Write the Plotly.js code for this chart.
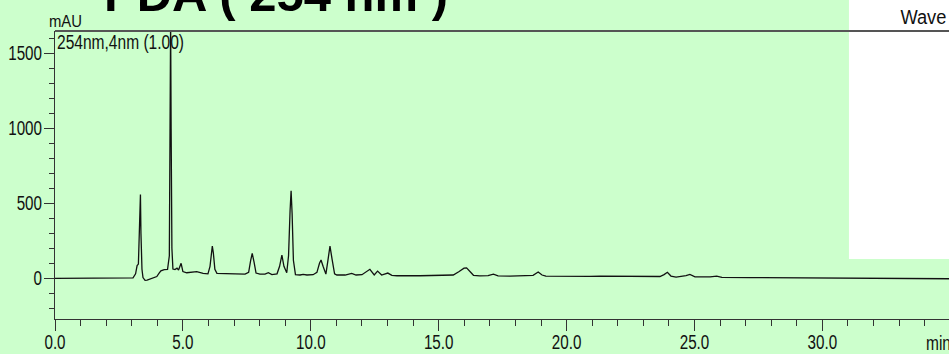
<!DOCTYPE html>
<html>
<head>
<meta charset="utf-8">
<script src="https://cdn.plot.ly/plotly-3.0.1.min.js"></script>
<style>html,body{margin:0;padding:0;background:#ccffcc;}#chart{width:949px;height:354px;}</style>
</head>
<body>
<div id="chart"></div>
<script>
// Retention time (min) and absorbance (mAU)
const timeMin = [0, 2.93, 3.05, 3.15, 3.21, 3.26, 3.30, 3.34, 3.36, 3.40, 3.44, 3.52, 3.60, 3.71, 3.84, 3.98, 4.07, 4.14, 4.27, 4.40, 4.47, 4.50, 4.52, 4.54, 4.57, 4.61, 4.69, 4.77, 4.83, 4.93, 5.00, 5.15, 5.28, 5.54, 5.79, 5.98, 6.06, 6.11, 6.15, 6.19, 6.25, 6.33, 6.65, 7.04, 7.43, 7.57, 7.65, 7.71, 7.78, 7.86, 8.01, 8.21, 8.34, 8.48, 8.68, 8.78, 8.87, 8.95, 9.06, 9.13, 9.19, 9.23, 9.27, 9.32, 9.40, 9.58, 9.70, 9.85, 10.09, 10.24, 10.34, 10.40, 10.48, 10.59, 10.67, 10.75, 10.83, 10.93, 11.02, 11.34, 11.60, 11.77, 12.00, 12.16, 12.31, 12.48, 12.61, 12.77, 13.01, 13.17, 13.37, 14.27, 15.25, 15.57, 15.80, 15.99, 16.09, 16.20, 16.36, 16.61, 16.93, 17.14, 17.32, 17.79, 18.37, 18.69, 18.89, 19.04, 19.19, 19.55, 19.74, 19.94, 20.21, 20.91, 21.31, 22.09, 22.87, 23.65, 23.81, 23.94, 24.08, 24.28, 24.67, 24.82, 25.02, 25.61, 25.87, 26.07, 27.17, 29.12, 31.08, 33.03, 34.95];
const absorbance = [0, 0, 3, 30, 85, 95, 300, 558, 300, 60, 5, -14, -12, -5, 5, 12, 35, 50, 58, 60, 150, 1000, 1720, 1000, 200, 62, 58, 68, 55, 100, 45, 37, 38, 45, 33, 30, 80, 180, 215, 170, 60, 33, 30, 30, 28, 40, 120, 166, 110, 35, 28, 28, 37, 25, 30, 80, 155, 80, 37, 150, 450, 584, 430, 120, 25, 22, 26, 22, 24, 40, 100, 122, 80, 28, 120, 215, 130, 30, 22, 22, 33, 22, 24, 45, 60, 22, 48, 22, 35, 20, 17, 17, 17, 22, 45, 68, 70, 50, 20, 16, 18, 28, 16, 14, 15, 20, 42, 22, 15, 14, 18, 13, 15, 13, 15, 13, 11, 12, 25, 40, 15, 8, 18, 26, 10, 9, 15, 6, 5, 3, 1, -2, -3];

const chartTitle = "PDA ( 254 nm )";
const yUnit = "mAU";
const xUnit = "min";
const channelLabel = "254nm,4nm (1.00)";
const cornerLabel = "Wave";

const sans = "'Liberation Sans', Arial, sans-serif";
const green = "#ccffcc";

const trace = {
  x: timeMin, y: absorbance, type: "scatter", mode: "lines",
  line: {color: "#111111", width: 1.3}, hoverinfo: "skip", showlegend: false
};

const layout = {
  width: 949, height: 354,
  margin: {l: 55, r: 0, t: 31, b: 35, pad: 0},
  paper_bgcolor: green, plot_bgcolor: green,
  showlegend: false,
  font: {family: sans, size: 20, color: "#111"},
  xaxis: {
    range: [0, 34.95], tick0: 0, dtick: 5, tickformat: ".1f",
    showgrid: false, zeroline: false, showline: true, linecolor: "#333", linewidth: 1,
    ticks: "outside", ticklen: 11, tickcolor: "#333", tickwidth: 1, ticklabelstandoff: -6,
    minor: {dtick: 1, ticks: "outside", ticklen: 6, tickcolor: "#333", tickwidth: 1, showgrid: false},
    tickfont: {family: sans, size: 20, color: "#111"},
    fixedrange: true
  },
  yaxis: {
    range: [-271.3, 1648.7], tick0: 0, dtick: 500,
    showgrid: false, zeroline: false, showline: true, linecolor: "#333", linewidth: 1,
    ticks: "outside", ticklen: 10, tickcolor: "#333", tickwidth: 1, ticklabelstandoff: -2,
    minor: {dtick: 100, ticks: "outside", ticklen: 5, tickcolor: "#333", tickwidth: 1, showgrid: false},
    tickfont: {family: sans, size: 20, color: "#111"},
    fixedrange: true
  },
  shapes: [
    {type: "rect", xref: "paper", yref: "paper", x0: 0.8881, x1: 1.01, y0: 0.2083, y1: 1.11,
     fillcolor: "#ffffff", line: {width: 0}, layer: "below"},
    {type: "line", xref: "paper", yref: "paper", x0: 0, x1: 1, y0: 1, y1: 1,
     line: {color: "#555555", width: 2}, layer: "above"}
  ],
  annotations: [
    {text: chartTitle, xref: "paper", yref: "paper", x: 0.0522, y: 1.128, xanchor: "left", yanchor: "middle", align: "left",
     showarrow: false, font: {family: sans, size: 49, color: "#000", weight: "bold"}},
    {text: yUnit, xref: "paper", yref: "paper", x: -0.009, y: 1.0333, xanchor: "left", yanchor: "middle", align: "left",
     showarrow: false, font: {family: sans, size: 17, color: "#111"}},
    {text: channelLabel, xref: "paper", yref: "paper", x: 0.0, y: 0.9618, xanchor: "left", yanchor: "middle", align: "left",
     showarrow: false, font: {family: sans, size: 20, color: "#111"}},
    {text: cornerLabel, xref: "paper", yref: "paper", x: 0.9985, y: 1.0472, xanchor: "right", yanchor: "middle", align: "right",
     showarrow: false, font: {family: sans, size: 20, color: "#111"}},
    {text: xUnit, xref: "paper", yref: "paper", x: 0.9725, y: -0.0823, xanchor: "left", yanchor: "middle", align: "left",
     showarrow: false, font: {family: sans, size: 20, color: "#111"}}
  ]
};

// target widths (px) of the condensed labels in the reference, by annotation index
const annWidths = [null, 33, 127, 46, 25];

function squeeze(el, len) {
  el.setAttribute("textLength", len);
  el.setAttribute("lengthAdjust", "spacingAndGlyphs");
}

Plotly.newPlot("chart", [trace], layout, {displayModeBar: false, staticPlot: true}).then(function () {
  document.querySelectorAll(".xtick text, .ytick text").forEach(function (el) {
    const w = el.getComputedTextLength();
    squeeze(el, w * 0.76);
  });
  document.querySelectorAll("g.annotation").forEach(function (g) {
    const idx = +g.getAttribute("data-index");
    const target = annWidths[idx];
    if (!target) return;
    const t = g.querySelector("text.annotation-text");
    if (t) squeeze(t, target);
  });
});
</script>
</body>
</html>
